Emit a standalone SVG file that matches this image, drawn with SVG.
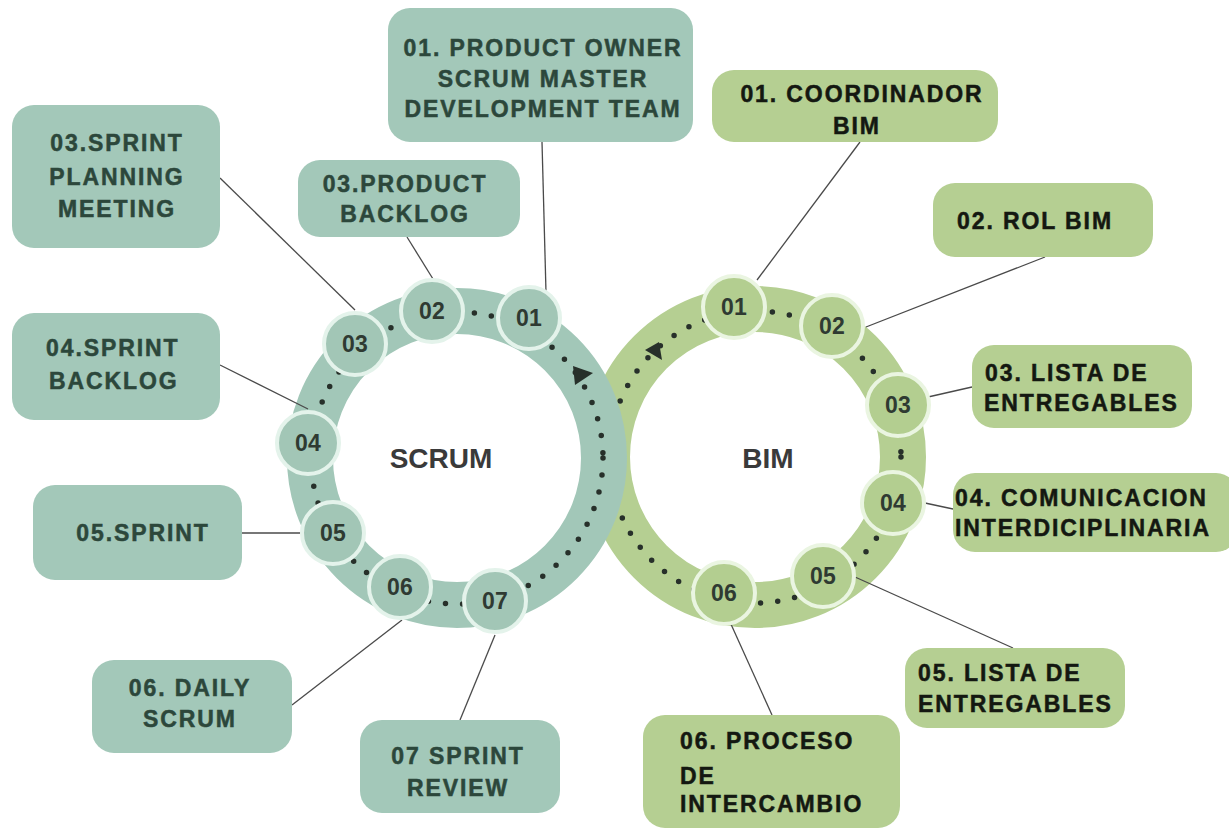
<svg xmlns="http://www.w3.org/2000/svg" width="1229" height="830" viewBox="0 0 1229 830">
<style>
.bs{fill:#a3c8b9}
.bb{fill:#b5cf92}
.ts{font-family:"Liberation Sans",Arial,sans-serif;font-weight:bold;font-size:23px;letter-spacing:1.9px;fill:#2c473b;stroke:#2c473b;stroke-width:0.5px}
.tb{font-family:"Liberation Sans",Arial,sans-serif;font-weight:bold;font-size:23px;letter-spacing:1.9px;fill:#141811;stroke:#141811;stroke-width:0.5px}
.mid{text-anchor:middle}
.ns circle{fill:#a2c6b6;stroke:#e4f3eb;stroke-width:4}
.nb circle{fill:#b3ce90;stroke:#eaf5e1;stroke-width:4}
.num{font-family:"Liberation Sans",Arial,sans-serif;font-weight:bold;font-size:23px;letter-spacing:0.3px;fill:#2f3a32;text-anchor:middle;dominant-baseline:central}
.dots{fill:none;stroke:#27302a;stroke-width:5.5;stroke-linecap:round;stroke-dasharray:0 17.2}
.conn line{stroke:#4a4a4a;stroke-width:1.3}
.big{font-family:"Liberation Sans",Arial,sans-serif;font-weight:bold;font-size:28px;fill:#3a3a3a;text-anchor:middle;dominant-baseline:central}
</style>
<rect width="1229" height="830" fill="#ffffff"/>
<g id="rings">
<circle cx="755" cy="457" r="148" fill="none" stroke="#b5cf92" stroke-width="46"/>
<circle class="dots" cx="755" cy="457" r="146"/>
<polygon points="645,350 659,342 662,360" fill="#27302a"/>
<circle cx="457" cy="458" r="147" fill="none" stroke="#a2c7b8" stroke-width="46"/>
<circle class="dots" cx="457" cy="458" r="146"/>
<polygon points="573,366 593,373 575,385" fill="#27302a"/>
<text class="big" x="441" y="458">SCRUM</text>
<text class="big" x="768" y="458">BIM</text>
</g>
<g id="connectors" class="conn">
<line x1="542" y1="142" x2="546" y2="292"/>
<line x1="407" y1="237" x2="433" y2="279"/>
<line x1="220" y1="178" x2="355" y2="310"/>
<line x1="220" y1="365" x2="308" y2="409"/>
<line x1="242" y1="533" x2="300" y2="533"/>
<line x1="292" y1="705" x2="402" y2="620"/>
<line x1="460" y1="720" x2="495" y2="635"/>
<line x1="860" y1="142" x2="757" y2="280"/>
<line x1="1045" y1="257" x2="866" y2="327"/>
<line x1="928" y1="397" x2="972" y2="387"/>
<line x1="925" y1="503" x2="953" y2="509"/>
<line x1="855" y1="577" x2="1013" y2="648"/>
<line x1="772" y1="715" x2="730" y2="622"/>
</g>
<g id="s01" class="ns"><circle cx="529" cy="318" r="31"/><text class="num" x="529" y="318">01</text></g>
<g id="s02" class="ns"><circle cx="432" cy="311" r="31"/><text class="num" x="432" y="311">02</text></g>
<g id="s03" class="ns"><circle cx="355" cy="344" r="31"/><text class="num" x="355" y="344">03</text></g>
<g id="s04" class="ns"><circle cx="308" cy="443" r="31"/><text class="num" x="308" y="443">04</text></g>
<g id="s05" class="ns"><circle cx="333" cy="533" r="31"/><text class="num" x="333" y="533">05</text></g>
<g id="s06" class="ns"><circle cx="400" cy="587" r="31"/><text class="num" x="400" y="587">06</text></g>
<g id="s07" class="ns"><circle cx="495" cy="601" r="31"/><text class="num" x="495" y="601">07</text></g>
<g id="b01" class="nb"><circle cx="734" cy="307" r="31"/><text class="num" x="734" y="307">01</text></g>
<g id="b02" class="nb"><circle cx="832" cy="326" r="31"/><text class="num" x="832" y="326">02</text></g>
<g id="b03" class="nb"><circle cx="898" cy="405" r="31"/><text class="num" x="898" y="405">03</text></g>
<g id="b04" class="nb"><circle cx="893" cy="503" r="31"/><text class="num" x="893" y="503">04</text></g>
<g id="b05" class="nb"><circle cx="823" cy="576" r="31"/><text class="num" x="823" y="576">05</text></g>
<g id="b06" class="nb"><circle cx="724" cy="593" r="31"/><text class="num" x="724" y="593">06</text></g>
<g id="box-s01"><rect class="bs" x="388" y="8" width="305" height="134" rx="22"/>
<text class="ts mid" x="543" y="56">01. PRODUCT OWNER</text>
<text class="ts mid" x="543" y="87">SCRUM MASTER</text>
<text class="ts mid" x="543" y="117">DEVELOPMENT TEAM</text></g>
<g id="box-s03a"><rect class="bs" x="12" y="105" width="208" height="143" rx="22"/>
<text class="ts mid" x="117" y="151">03.SPRINT</text>
<text class="ts mid" x="117" y="185">PLANNING</text>
<text class="ts mid" x="117" y="217">MEETING</text></g>
<g id="box-s03b"><rect class="bs" x="298" y="160" width="222" height="77" rx="22"/>
<text class="ts mid" x="405" y="192">03.PRODUCT</text>
<text class="ts mid" x="405" y="222">BACKLOG</text></g>
<g id="box-s04"><rect class="bs" x="12" y="313" width="208" height="107" rx="22"/>
<text class="ts" x="46" y="356">04.SPRINT</text>
<text class="ts" x="49" y="389">BACKLOG</text></g>
<g id="box-s05"><rect class="bs" x="33" y="485" width="209" height="95" rx="22"/>
<text class="ts mid" x="143" y="541">05.SPRINT</text></g>
<g id="box-s06"><rect class="bs" x="92" y="660" width="200" height="93" rx="22"/>
<text class="ts mid" x="190" y="696">06. DAILY</text>
<text class="ts mid" x="190" y="727">SCRUM</text></g>
<g id="box-s07"><rect class="bs" x="360" y="720" width="200" height="93" rx="22"/>
<text class="ts mid" x="458" y="764">07 SPRINT</text>
<text class="ts mid" x="458" y="796">REVIEW</text></g>
<g id="box-b01"><rect class="bb" x="712" y="70" width="286" height="72" rx="22"/>
<text class="tb mid" x="862" y="102">01. COORDINADOR</text>
<text class="tb mid" x="857" y="134">BIM</text></g>
<g id="box-b02"><rect class="bb" x="933" y="183" width="220" height="74" rx="22"/>
<text class="tb" x="957" y="229">02. ROL BIM</text></g>
<g id="box-b03"><rect class="bb" x="972" y="345" width="220" height="83" rx="22"/>
<text class="tb" x="985" y="381">03. LISTA DE</text>
<text class="tb" x="984" y="411">ENTREGABLES</text></g>
<g id="box-b04"><rect class="bb" x="953" y="473" width="285" height="79" rx="22"/>
<text class="tb" x="955" y="506">04. COMUNICACION</text>
<text class="tb" x="955" y="536">INTERDICIPLINARIA</text></g>
<g id="box-b05"><rect class="bb" x="905" y="648" width="220" height="80" rx="22"/>
<text class="tb" x="918" y="681">05. LISTA DE</text>
<text class="tb" x="918" y="712">ENTREGABLES</text></g>
<g id="box-b06"><rect class="bb" x="643" y="715" width="257" height="113" rx="22"/>
<text class="tb" x="680" y="749">06. PROCESO</text>
<text class="tb" x="680" y="784">DE</text>
<text class="tb" x="680" y="812">INTERCAMBIO</text></g>
</svg>
